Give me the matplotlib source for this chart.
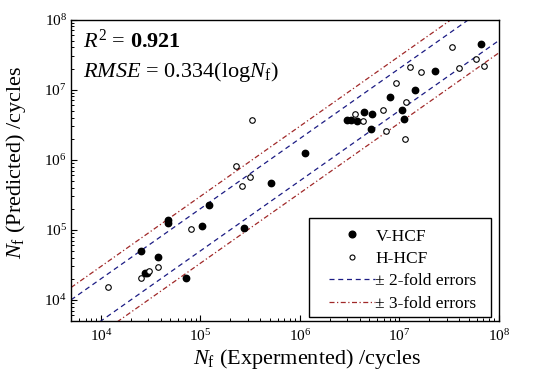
import numpy as np
import matplotlib
matplotlib.use('Agg')
import matplotlib.pyplot as plt
from matplotlib.patches import Rectangle
from matplotlib.ticker import LogLocator, LogFormatterMathtext, NullFormatter

plt.rcParams['font.family'] = ['Liberation Serif', 'DejaVu Serif']
plt.rcParams['mathtext.fontset'] = 'custom'
plt.rcParams['mathtext.rm'] = 'Liberation Serif'
plt.rcParams['mathtext.it'] = 'Liberation Serif:italic'
plt.rcParams['mathtext.bf'] = 'Liberation Serif:bold'

# V-HCF (filled)
v_exp = [2.51e4, 2.77e4, 2.92e4, 3.78e4, 4.72e4, 4.72e4, 7.1e4, 1.05e5, 1.23e5,
         2.75e5, 5.17e5, 1.13e6, 3.0e6, 3.25e6, 3.73e6, 4.43e6, 5.29e6, 5.24e6,
         8.13e6, 1.07e7, 1.12e7, 1.44e7, 2.30e7, 6.59e7]
v_pred = [4.93e4, 2.40e4, 2.44e4, 4.09e4, 1.38e5, 1.24e5, 2.05e4, 1.13e5, 2.28e5,
          1.05e5, 4.6e5, 1.23e6, 3.68e6, 3.68e6, 3.53e6, 4.79e6, 4.44e6, 2.71e6,
          7.92e6, 5.12e6, 3.84e6, 9.87e6, 1.86e7, 4.52e7]

# H-HCF (open)
h_exp = [1.19e4, 2.51e4, 3.04e4, 3.75e4, 8.0e4, 2.28e5, 2.6e5, 3.16e5, 3.33e5,
         3.59e6, 4.35e6, 6.81e6, 7.36e6, 9.27e6, 1.16e7, 1.14e7, 1.27e7, 1.66e7,
         3.37e7, 4.02e7, 5.91e7, 7.11e7]
h_pred = [1.53e4, 2.05e4, 2.61e4, 2.98e4, 1.02e5, 8.2e5, 4.26e5, 5.61e5, 3.68e6,
          4.49e6, 3.6e6, 5.12e6, 2.56e6, 1.25e7, 6.72e6, 1.97e6, 2.12e7, 1.77e7,
          4.05e7, 2.05e7, 2.76e7, 2.19e7]

x_limits = [5e3, 1e8]
fold_2 = 2
fold_3 = 3

fig = plt.figure(figsize=(5.47, 3.83), dpi=100)
ax = fig.add_axes([0.1298, 0.1619, 0.7819, 0.7871])

xs = np.array(x_limits)
ax.plot(xs, xs * fold_2, color='#1c1c84', linestyle=(0, (4, 3)), linewidth=0.9)
ax.plot(xs, xs / fold_2, color='#1c1c84', linestyle=(0, (4, 3)), linewidth=0.9)
ax.plot(xs, xs * fold_3, color='#a02828', linestyle=(0, (4, 2, 1, 2)), linewidth=0.9)
ax.plot(xs, xs / fold_3, color='#a02828', linestyle=(0, (4, 2, 1, 2)), linewidth=0.9)

ax.plot(v_exp, v_pred, 'o', color='black', markersize=4.6, linestyle='none')
ax.plot(h_exp, h_pred, 'o', markerfacecolor='white', markeredgecolor='black',
        markeredgewidth=0.8, markersize=4.0, linestyle='none')

ax.set_xscale('log')
ax.set_yscale('log')
ax.set_xlim(x_limits)
ax.set_ylim(x_limits)

for a in (ax.xaxis, ax.yaxis):
    a.set_major_locator(LogLocator(base=10))
    a.set_major_formatter(LogFormatterMathtext())
    a.set_minor_locator(LogLocator(base=10, subs=np.arange(2, 10)))
    a.set_minor_formatter(NullFormatter())

ax.tick_params(which='both', direction='in', top=False, right=False, labelsize=11)
ax.tick_params(which='major', length=4, width=0.8)
ax.tick_params(which='minor', length=2.5, width=0.7)
ax.tick_params(axis='x', pad=5)
ax.tick_params(axis='y', pad=3)
for s in ax.spines.values():
    s.set_linewidth(1.0)

ax.set_xlabel(r'$N_{\rm f}$ (Expermented) /cycles', fontsize=16)
ax.set_ylabel(r'$N_{\rm f}$ (Predicted) /cycles', fontsize=16)
ax.xaxis.set_label_coords(0.551, -0.085)
ax.yaxis.set_label_coords(-0.10, 0.525)

ax.text(0.028, 0.905, r'$R^{2}$ = $\mathbf{0.921}$', transform=ax.transAxes,
        fontsize=16, va='baseline')
ax.text(0.028, 0.81, r'$RMSE$ = 0.334(log$N_{\rm f}$)', transform=ax.transAxes,
        fontsize=16, va='baseline')

# legend frame drawn separately (wider side padding than matplotlib allows)
ax.add_patch(Rectangle((0.557, 0.0123), 0.4257, 0.3283, transform=ax.transAxes,
                       facecolor='white', edgecolor='black', linewidth=1.0, zorder=4))

h1, = ax.plot([], [], 'o', color='black', markersize=4.8, linestyle='none')
h2, = ax.plot([], [], 'o', markerfacecolor='white', markeredgecolor='black',
              markeredgewidth=0.8, markersize=3.6, linestyle='none')
h3, = ax.plot([], [], color='#1c1c84', linestyle=(0, (4, 3)), linewidth=0.9)
h4, = ax.plot([], [], color='#a02828', linestyle=(0, (4, 2, 1, 2)), linewidth=0.9)
leg = ax.legend([h1, h2, h3, h4], ['V-HCF', 'H-HCF', '± 2-fold errors', '± 3-fold errors'],
                loc='lower right', bbox_to_anchor=(0.971, -0.001), fontsize=12.5,
                frameon=False, handlelength=2.6, handletextpad=0.05,
                labelspacing=0.36, borderpad=0.55, borderaxespad=0)
leg.set_zorder(5)

fig.savefig('out.png', dpi=100)
